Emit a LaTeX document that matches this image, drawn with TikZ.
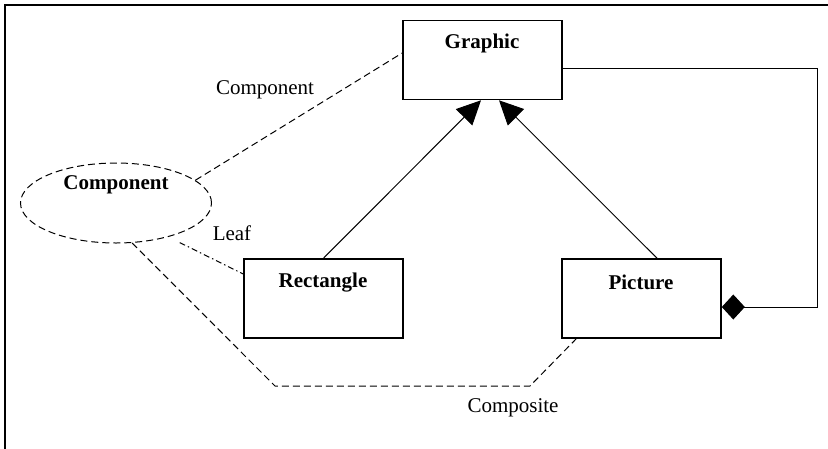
\documentclass[tikz,border=0pt]{standalone}
\usepackage{fontspec}
\setmainfont{Liberation Serif}
\usetikzlibrary{arrows.meta,shapes.geometric}
\begin{document}
\begin{tikzpicture}[x=1pt,y=-1pt,
  cls/.style={draw,line width=1.6pt,minimum width=159pt,minimum height=79pt,inner sep=0pt},
  bold/.style={font=\fontsize{21}{25}\selectfont\bfseries,inner sep=0pt},
  lbl/.style={font=\fontsize{21}{25}\selectfont,inner sep=0pt},
  dsh/.style={line width=1pt,dash pattern=on 7pt off 4pt},
  dshdot/.style={line width=1pt,dash pattern=on 6pt off 3pt on 1.5pt off 3pt},
  inh/.style={line width=1pt,-{Triangle[length=24pt,width=23pt]}},
  agg/.style={line width=1pt,-{Diamond[length=23pt,width=25pt]}}]
\useasboundingbox (0,0) rectangle (828,448);
\fill[white] (0,0) rectangle (828,448);
\draw[line width=1.8pt] (5,450) -- (5,5) -- (830,5);
% class boxes
\node[cls] (graphic) at (482.5,60) {};
\node[cls] (rect) at (323.5,298.5) {};
\node[cls] (pic) at (641.5,298.5) {};
\node[bold] (tg) at (482,43) {Graphic};
\node[bold] (tr) at (323,283) {Rectangle};
\node[bold] (tp) at (641,282) {Picture};
% ellipse
\node[draw,ellipse,dsh,minimum width=191pt,minimum height=80pt,inner sep=0pt] (comp) at (116,203) {};
\node[bold] (tc) at (116,185) {Component};
% labels
\node[lbl] (lc) at (265,90) {Component};
\node[lbl] (ll) at (232,233) {Leaf};
\node[lbl] (lco) at (513,408) {Composite};
% inheritance
\draw[inh] (rect.north) -- ([xshift=-1.5pt]graphic.south);
\draw[inh] ([xshift=15.5pt]pic.north) -- ([xshift=16.5pt]graphic.south);
% aggregation
\coordinate (c1) at (817,68);
\coordinate (c2) at (817,307);
\draw[agg] ([yshift=-8pt]graphic.east) -- (c1) -- (c2) -- ([yshift=-8.5pt]pic.east);
% dashed role lines
\draw[dsh] (comp.16) -- ([yshift=7pt]graphic.west);
\draw[dshdot] ([xshift=10pt,yshift=-6pt]comp.-32) -- ([yshift=24.5pt]rect.west);
\coordinate (b1) at (275,386);
\coordinate (b2) at (530,386);
\draw[dsh] (comp.-68) -- (b1) -- (b2) -- ([xshift=15pt]pic.south west);
\end{tikzpicture}
\end{document}
